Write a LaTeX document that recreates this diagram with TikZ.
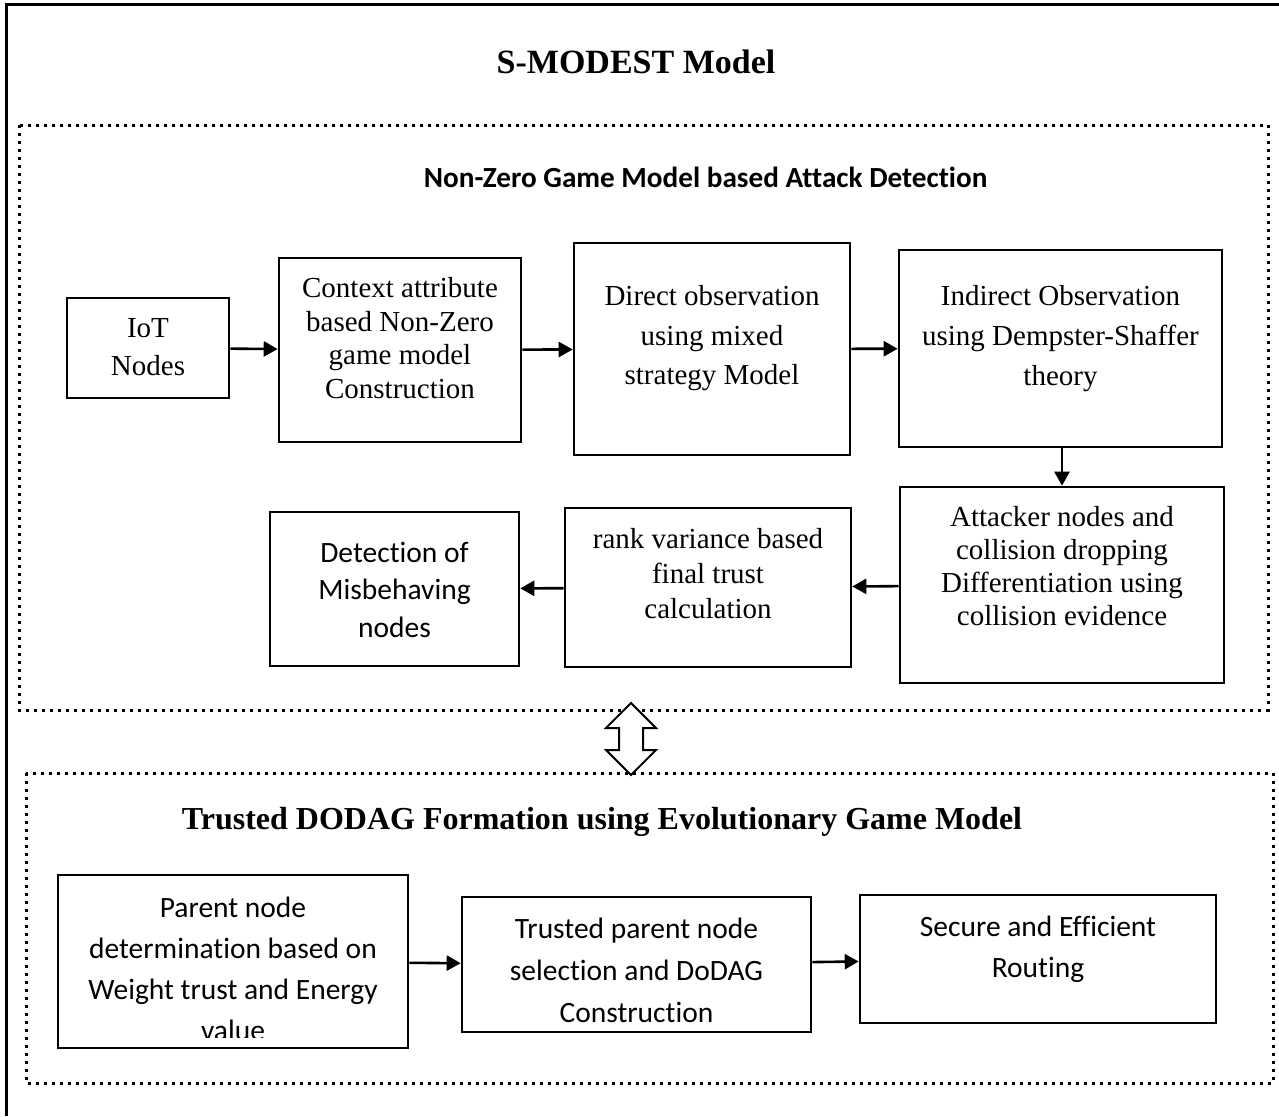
\documentclass[tikz,border=0pt]{standalone}
\usepackage{fontspec}
\setmainfont{Liberation Serif}
\newfontfamily\calfont[Ligatures=NoCommon]{Carlito}
\usetikzlibrary{arrows.meta}

\begin{document}
\begin{tikzpicture}[x=1pt,y=-1pt,
  box/.style={draw, line width=2.6pt, inner sep=0pt},
  arr/.style={line width=2.6pt, -{Triangle[length=14pt,width=15pt]}},
  dotbox/.style={line width=3pt, dash pattern=on 3pt off 5pt},
  tnr/.style={align=center, inner sep=0pt, font=\fontsize{29}{#1}\selectfont},
  cal/.style={align=center, inner sep=0pt, font=\calfont\fontsize{29.5}{#1}\selectfont},
]
\useasboundingbox (0,0) rectangle (1279,1116);

% outer frame
\draw[line width=3pt, line join=miter] (6,1116) -- (6,5) -- (1279,5);

\node[font=\bfseries\fontsize{34}{40}\selectfont] (title) at (636,62) {S-MODEST Model};

% ---------- attack detection block ----------
\draw[dotbox] (19,125) rectangle (1268,710);
\node[font=\calfont\bfseries\fontsize{29.2}{34}\selectfont, anchor=east] (titleA) at (991,177)
  {Non-Zero Game Model based Attack Detection};

\node[box, minimum width=162, minimum height=100] (iot) at (148,348) {};
\node[tnr=38] (iotT) at (148,347) {IoT\\Nodes};

\node[box, minimum width=242, minimum height=184] (ctx) at (400,350) {};
\node[tnr=33.5] (ctxT) at (400,338) {Context attribute\\based Non-Zero\\game model\\Construction};

\node[box, minimum width=276, minimum height=212] (dir) at (712,349) {};
\node[tnr=39.5] (dirT) at (712,338.5) {Direct observation\\using mixed\\strategy Model};

\node[box, minimum width=323, minimum height=197] (ind) at (1060.5,348.5) {};
\node[tnr=40] (indT) at (1060.5,338.5) {Indirect Observation\\using Dempster-Shaffer\\theory};

\node[box, minimum width=324, minimum height=196] (att) at (1062,585) {};
\node[tnr=33] (attT) at (1062,566) {Attacker nodes and\\collision dropping\\Differentiation using\\collision evidence};

\node[box, minimum width=286, minimum height=159] (rnk) at (708,587.5) {};
\node[tnr=35] (rnkT) at (708,573.5) {rank variance based\\final trust\\calculation};

\node[box, minimum width=249, minimum height=154] (det) at (394.5,589) {};
\node[cal=37.5] (detT) at (394.5,589.5) {Detection of\\Misbehaving\\nodes};

\draw[arr] (iot) -- (ctx);
\draw[arr] (ctx) -- (dir);
\draw[arr] (dir) -- (ind);
\draw[arr] (ind.south -| att.north) -- (att.north);
\draw[arr] (att) -- (rnk);
\draw[arr] (rnk) -- (det);

% ---------- DODAG formation block ----------
\draw[dotbox] (26,773) rectangle (1273,1083);
\node[font=\bfseries\fontsize{32}{38}\selectfont] (titleB) at (602,822)
  {Trusted DODAG Formation using Evolutionary Game Model};

\node[box, minimum width=350, minimum height=173] (par) at (233,961.5) {};
\begin{scope}
  \clip (60,877) rectangle (406,1037);
  \node[cal=41] (parT) at (233,968.5) {Parent node\\determination based on\\Weight trust and Energy\\value};
\end{scope}

\node[box, minimum width=349, minimum height=135] (tru) at (636.5,964.5) {};
\node[cal=42] (truT) at (636.5,970) {Trusted parent node\\selection and DoDAG\\Construction};

\node[box, minimum width=356, minimum height=128] (sec) at (1038,959) {};
\node[cal=41] (secT) at (1038,949.5) {Secure and Efficient\\Routing};

\draw[arr] (par) -- (tru);
\draw[arr] (tru) -- (sec);

% two-way link between the blocks
\coordinate (link) at (631,739);
\draw[line width=2pt, fill=white, line join=miter]
  (link) ++(0,-36) -- ++(25,25) -- ++(-13,0) -- ++(0,22) -- ++(13,0)
  -- ++(-25,25) -- ++(-25,-25) -- ++(13,0) -- ++(0,-22) -- ++(-13,0) -- cycle;

\end{tikzpicture}
\end{document}
